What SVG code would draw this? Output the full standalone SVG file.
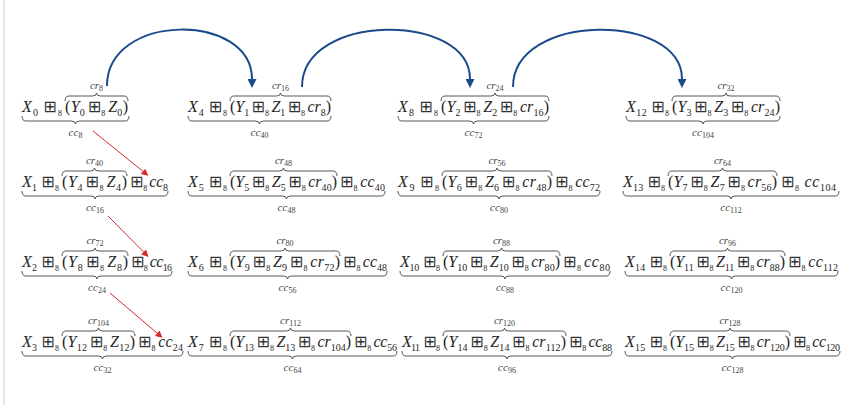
<svg xmlns="http://www.w3.org/2000/svg" width="844" height="405" viewBox="0 0 844 405">
<style>
.m{font-family:"Liberation Serif",serif;font-size:16px;font-style:italic;fill:#262626}
.s{font-size:10px;font-style:normal}
.t{font-size:8px;font-style:normal}
.o{font-family:"DejaVu Sans",sans-serif;font-size:16px;font-style:normal;fill:#333}
.p{font-style:normal}
.l{font-family:"Liberation Serif",serif;font-size:11px;font-style:italic;fill:#444;text-anchor:middle}
.ls{font-size:8px;font-style:normal}
.br{fill:none;stroke:#444;stroke-width:0.9}
.blue{fill:none;stroke:#1b4a8c;stroke-width:2}
.red{fill:none;stroke:#d42a2a;stroke-width:1}
</style>
<defs>
<marker id="ab" viewBox="0 0 10 10" refX="0" refY="5" markerUnits="userSpaceOnUse" markerWidth="10" markerHeight="9" orient="auto"><path d="M0,0 L10,5 L0,10 z" fill="#1b4a8c"/></marker>
<marker id="ar" viewBox="0 0 10 10" refX="0" refY="5" markerUnits="userSpaceOnUse" markerWidth="9" markerHeight="7" orient="auto"><path d="M0,0 L10,5 L0,10 z" fill="#d42a2a"/></marker>
</defs>
<rect width="844" height="405" fill="#fff"/>
<line x1="4" y1="0" x2="4" y2="405" stroke="#d0d0d0" stroke-width="1"/>

<!-- Row 1 -->
<g id="node-0">
<text class="m" x="22" y="112" textLength="40" lengthAdjust="spacing">X<tspan class="s" dy="4">0</tspan><tspan class="o" dx="4" dy="-4">⊞</tspan><tspan class="t" dy="4">8</tspan></text>
<text class="m" x="65" y="112" textLength="63" lengthAdjust="spacing"><tspan class="p">(</tspan>Y<tspan class="s" dy="4">0</tspan><tspan class="o" dx="2.5" dy="-4">⊞</tspan><tspan class="t" dy="4">8</tspan><tspan dx="2.5" dy="-4">Z</tspan><tspan class="s" dy="4">0</tspan><tspan class="p" dy="-4">)</tspan></text>
<path class="br" d="M65,101 Q65,96 69,96 H92.5 Q96.5,96 96.5,93 Q96.5,96 100.5,96 H124 Q128,96 128,101"/>
<path class="br" d="M22,116 Q22,121 26,121 H71.5 Q75.5,121 75.5,124 Q75.5,121 79.5,121 H125 Q129,121 129,116"/>
<text class="l" x="96.5" y="89">cr<tspan class="ls" dy="2">8</tspan></text>
<text class="l" x="75.5" y="136">cc<tspan class="ls" dy="2">8</tspan></text>
</g>
<g id="node-4">
<text class="m" x="188" y="112" textLength="39" lengthAdjust="spacing">X<tspan class="s" dy="4">4</tspan><tspan class="o" dx="4" dy="-4">⊞</tspan><tspan class="t" dy="4">8</tspan></text>
<text class="m" x="230" y="112" textLength="101" lengthAdjust="spacing"><tspan class="p">(</tspan>Y<tspan class="s" dy="4">1</tspan><tspan class="o" dx="2.5" dy="-4">⊞</tspan><tspan class="t" dy="4">8</tspan><tspan dx="2.5" dy="-4">Z</tspan><tspan class="s" dy="4">1</tspan><tspan class="o" dx="2.5" dy="-4">⊞</tspan><tspan class="t" dy="4">8</tspan><tspan dx="2.5" dy="-4">cr</tspan><tspan class="s" dy="4">8</tspan><tspan class="p" dy="-4">)</tspan></text>
<path class="br" d="M230,101 Q230,96 234,96 H276.5 Q280.5,96 280.5,93 Q280.5,96 284.5,96 H327 Q331,96 331,101"/>
<path class="br" d="M188,116 Q188,121 192,121 H255.5 Q259.5,121 259.5,124 Q259.5,121 263.5,121 H327 Q331,121 331,116"/>
<text class="l" x="280.5" y="89">cr<tspan class="ls" dy="2">16</tspan></text>
<text class="l" x="259.5" y="136">cc<tspan class="ls" dy="2">40</tspan></text>
</g>
<g id="node-8">
<text class="m" x="398" y="112" textLength="40" lengthAdjust="spacing">X<tspan class="s" dy="4">8</tspan><tspan class="o" dx="4" dy="-4">⊞</tspan><tspan class="t" dy="4">8</tspan></text>
<text class="m" x="441" y="112" textLength="108" lengthAdjust="spacing"><tspan class="p">(</tspan>Y<tspan class="s" dy="4">2</tspan><tspan class="o" dx="2.5" dy="-4">⊞</tspan><tspan class="t" dy="4">8</tspan><tspan dx="2.5" dy="-4">Z</tspan><tspan class="s" dy="4">2</tspan><tspan class="o" dx="2.5" dy="-4">⊞</tspan><tspan class="t" dy="4">8</tspan><tspan dx="2.5" dy="-4">cr</tspan><tspan class="s" dy="4">16</tspan><tspan class="p" dy="-4">)</tspan></text>
<path class="br" d="M441,101 Q441,96 445,96 H491 Q495,96 495,93 Q495,96 499,96 H545 Q549,96 549,101"/>
<path class="br" d="M398,116 Q398,121 402,121 H469.5 Q473.5,121 473.5,124 Q473.5,121 477.5,121 H545 Q549,121 549,116"/>
<text class="l" x="495" y="89">cr<tspan class="ls" dy="2">24</tspan></text>
<text class="l" x="473.5" y="136">cc<tspan class="ls" dy="2">72</tspan></text>
</g>
<g id="node-12">
<text class="m" x="626" y="112" textLength="43" lengthAdjust="spacing">X<tspan class="s" dy="4">12</tspan><tspan class="o" dx="4" dy="-4">⊞</tspan><tspan class="t" dy="4">8</tspan></text>
<text class="m" x="672" y="112" textLength="108" lengthAdjust="spacing"><tspan class="p">(</tspan>Y<tspan class="s" dy="4">3</tspan><tspan class="o" dx="2.5" dy="-4">⊞</tspan><tspan class="t" dy="4">8</tspan><tspan dx="2.5" dy="-4">Z</tspan><tspan class="s" dy="4">3</tspan><tspan class="o" dx="2.5" dy="-4">⊞</tspan><tspan class="t" dy="4">8</tspan><tspan dx="2.5" dy="-4">cr</tspan><tspan class="s" dy="4">24</tspan><tspan class="p" dy="-4">)</tspan></text>
<path class="br" d="M672,101 Q672,96 676,96 H722 Q726,96 726,93 Q726,96 730,96 H776 Q780,96 780,101"/>
<path class="br" d="M626,116 Q626,121 630,121 H699 Q703,121 703,124 Q703,121 707,121 H776 Q780,121 780,116"/>
<text class="l" x="726" y="89">cr<tspan class="ls" dy="2">32</tspan></text>
<text class="l" x="703" y="136">cc<tspan class="ls" dy="2">104</tspan></text>
</g>

<!-- Row 2 -->
<g id="node-1">
<text class="m" x="22" y="187" textLength="37" lengthAdjust="spacing">X<tspan class="s" dy="4">1</tspan><tspan class="o" dx="4" dy="-4">⊞</tspan><tspan class="t" dy="4">8</tspan></text>
<text class="m" x="62" y="187" textLength="65" lengthAdjust="spacing"><tspan class="p">(</tspan>Y<tspan class="s" dy="4">4</tspan><tspan class="o" dx="2.5" dy="-4">⊞</tspan><tspan class="t" dy="4">8</tspan><tspan dx="2.5" dy="-4">Z</tspan><tspan class="s" dy="4">4</tspan><tspan class="p" dy="-4">)</tspan></text>
<text class="m" x="130" y="187" textLength="38" lengthAdjust="spacing"><tspan class="o">⊞</tspan><tspan class="t" dy="4">8</tspan><tspan dx="2.5" dy="-4">cc</tspan><tspan class="s" dy="4">8</tspan></text>
<path class="br" d="M62,176 Q62,171 66,171 H90.5 Q94.5,171 94.5,168 Q94.5,171 98.5,171 H123 Q127,171 127,176"/>
<path class="br" d="M22,191 Q22,196 26,196 H91 Q95,196 95,199 Q95,196 99,196 H164 Q168,196 168,191"/>
<text class="l" x="94.5" y="164">cr<tspan class="ls" dy="2">40</tspan></text>
<text class="l" x="95" y="211">cc<tspan class="ls" dy="2">16</tspan></text>
</g>
<g id="node-5">
<text class="m" x="188" y="187" textLength="39" lengthAdjust="spacing">X<tspan class="s" dy="4">5</tspan><tspan class="o" dx="4" dy="-4">⊞</tspan><tspan class="t" dy="4">8</tspan></text>
<text class="m" x="230" y="187" textLength="107" lengthAdjust="spacing"><tspan class="p">(</tspan>Y<tspan class="s" dy="4">5</tspan><tspan class="o" dx="2.5" dy="-4">⊞</tspan><tspan class="t" dy="4">8</tspan><tspan dx="2.5" dy="-4">Z</tspan><tspan class="s" dy="4">5</tspan><tspan class="o" dx="2.5" dy="-4">⊞</tspan><tspan class="t" dy="4">8</tspan><tspan dx="2.5" dy="-4">cr</tspan><tspan class="s" dy="4">40</tspan><tspan class="p" dy="-4">)</tspan></text>
<text class="m" x="340" y="187" textLength="45" lengthAdjust="spacing"><tspan class="o">⊞</tspan><tspan class="t" dy="4">8</tspan><tspan dx="2.5" dy="-4">cc</tspan><tspan class="s" dy="4">40</tspan></text>
<path class="br" d="M230,176 Q230,171 234,171 H279.5 Q283.5,171 283.5,168 Q283.5,171 287.5,171 H333 Q337,171 337,176"/>
<path class="br" d="M188,191 Q188,196 192,196 H282.5 Q286.5,196 286.5,199 Q286.5,196 290.5,196 H381 Q385,196 385,191"/>
<text class="l" x="283.5" y="164">cr<tspan class="ls" dy="2">48</tspan></text>
<text class="l" x="286.5" y="211">cc<tspan class="ls" dy="2">48</tspan></text>
</g>
<g id="node-9">
<text class="m" x="398" y="187" textLength="41" lengthAdjust="spacing">X<tspan class="s" dy="4">9</tspan><tspan class="o" dx="4" dy="-4">⊞</tspan><tspan class="t" dy="4">8</tspan></text>
<text class="m" x="442" y="187" textLength="110" lengthAdjust="spacing"><tspan class="p">(</tspan>Y<tspan class="s" dy="4">6</tspan><tspan class="o" dx="2.5" dy="-4">⊞</tspan><tspan class="t" dy="4">8</tspan><tspan dx="2.5" dy="-4">Z</tspan><tspan class="s" dy="4">6</tspan><tspan class="o" dx="2.5" dy="-4">⊞</tspan><tspan class="t" dy="4">8</tspan><tspan dx="2.5" dy="-4">cr</tspan><tspan class="s" dy="4">48</tspan><tspan class="p" dy="-4">)</tspan></text>
<text class="m" x="555" y="187" textLength="45" lengthAdjust="spacing"><tspan class="o">⊞</tspan><tspan class="t" dy="4">8</tspan><tspan dx="2.5" dy="-4">cc</tspan><tspan class="s" dy="4">72</tspan></text>
<path class="br" d="M442,176 Q442,171 446,171 H493 Q497,171 497,168 Q497,171 501,171 H548 Q552,171 552,176"/>
<path class="br" d="M398,191 Q398,196 402,196 H495 Q499,196 499,199 Q499,196 503,196 H596 Q600,196 600,191"/>
<text class="l" x="497" y="164">cr<tspan class="ls" dy="2">56</tspan></text>
<text class="l" x="499" y="211">cc<tspan class="ls" dy="2">80</tspan></text>
</g>
<g id="node-13">
<text class="m" x="623" y="187" textLength="42" lengthAdjust="spacing">X<tspan class="s" dy="4">13</tspan><tspan class="o" dx="4" dy="-4">⊞</tspan><tspan class="t" dy="4">8</tspan></text>
<text class="m" x="668" y="187" textLength="109" lengthAdjust="spacing"><tspan class="p">(</tspan>Y<tspan class="s" dy="4">7</tspan><tspan class="o" dx="2.5" dy="-4">⊞</tspan><tspan class="t" dy="4">8</tspan><tspan dx="2.5" dy="-4">Z</tspan><tspan class="s" dy="4">7</tspan><tspan class="o" dx="2.5" dy="-4">⊞</tspan><tspan class="t" dy="4">8</tspan><tspan dx="2.5" dy="-4">cr</tspan><tspan class="s" dy="4">56</tspan><tspan class="p" dy="-4">)</tspan></text>
<text class="m" x="781" y="187" textLength="55" lengthAdjust="spacing"><tspan class="o">⊞</tspan><tspan class="t" dy="4">8</tspan><tspan dx="5" dy="-4">cc</tspan><tspan class="s" dy="4">104</tspan></text>
<path class="br" d="M668,176 Q668,171 672,171 H718.5 Q722.5,171 722.5,168 Q722.5,171 726.5,171 H773 Q777,171 777,176"/>
<path class="br" d="M623,191 Q623,196 627,196 H727 Q731,196 731,199 Q731,196 735,196 H835 Q839,196 839,191"/>
<text class="l" x="722.5" y="164">cr<tspan class="ls" dy="2">64</tspan></text>
<text class="l" x="731" y="211">cc<tspan class="ls" dy="2">112</tspan></text>
</g>

<!-- Row 3 -->
<g id="node-2">
<text class="m" x="22" y="267" textLength="37" lengthAdjust="spacing">X<tspan class="s" dy="4">2</tspan><tspan class="o" dx="4" dy="-4">⊞</tspan><tspan class="t" dy="4">8</tspan></text>
<text class="m" x="62" y="267" textLength="66" lengthAdjust="spacing"><tspan class="p">(</tspan>Y<tspan class="s" dy="4">8</tspan><tspan class="o" dx="2.5" dy="-4">⊞</tspan><tspan class="t" dy="4">8</tspan><tspan dx="2.5" dy="-4">Z</tspan><tspan class="s" dy="4">8</tspan><tspan class="p" dy="-4">)</tspan></text>
<text class="m" x="131" y="267" textLength="41" lengthAdjust="spacing"><tspan class="o">⊞</tspan><tspan class="t" dy="4">8</tspan><tspan dx="2.5" dy="-4">cc</tspan><tspan class="s" dy="4">16</tspan></text>
<path class="br" d="M62,256 Q62,251 66,251 H91 Q95,251 95,248 Q95,251 99,251 H124 Q128,251 128,256"/>
<path class="br" d="M22,271 Q22,276 26,276 H93 Q97,276 97,279 Q97,276 101,276 H168 Q172,276 172,271"/>
<text class="l" x="95" y="244">cr<tspan class="ls" dy="2">72</tspan></text>
<text class="l" x="97" y="291">cc<tspan class="ls" dy="2">24</tspan></text>
</g>
<g id="node-6">
<text class="m" x="188" y="267" textLength="39" lengthAdjust="spacing">X<tspan class="s" dy="4">6</tspan><tspan class="o" dx="4" dy="-4">⊞</tspan><tspan class="t" dy="4">8</tspan></text>
<text class="m" x="230" y="267" textLength="110" lengthAdjust="spacing"><tspan class="p">(</tspan>Y<tspan class="s" dy="4">9</tspan><tspan class="o" dx="2.5" dy="-4">⊞</tspan><tspan class="t" dy="4">8</tspan><tspan dx="2.5" dy="-4">Z</tspan><tspan class="s" dy="4">9</tspan><tspan class="o" dx="2.5" dy="-4">⊞</tspan><tspan class="t" dy="4">8</tspan><tspan dx="2.5" dy="-4">cr</tspan><tspan class="s" dy="4">72</tspan><tspan class="p" dy="-4">)</tspan></text>
<text class="m" x="343" y="267" textLength="44" lengthAdjust="spacing"><tspan class="o">⊞</tspan><tspan class="t" dy="4">8</tspan><tspan dx="2.5" dy="-4">cc</tspan><tspan class="s" dy="4">48</tspan></text>
<path class="br" d="M230,256 Q230,251 234,251 H281 Q285,251 285,248 Q285,251 289,251 H336 Q340,251 340,256"/>
<path class="br" d="M188,271 Q188,276 192,276 H283.5 Q287.5,276 287.5,279 Q287.5,276 291.5,276 H383 Q387,276 387,271"/>
<text class="l" x="285" y="244">cr<tspan class="ls" dy="2">80</tspan></text>
<text class="l" x="287.5" y="291">cc<tspan class="ls" dy="2">56</tspan></text>
</g>
<g id="node-10">
<text class="m" x="400" y="267" textLength="40" lengthAdjust="spacing">X<tspan class="s" dy="4">10</tspan><tspan class="o" dx="4" dy="-4">⊞</tspan><tspan class="t" dy="4">8</tspan></text>
<text class="m" x="443" y="267" textLength="117" lengthAdjust="spacing"><tspan class="p">(</tspan>Y<tspan class="s" dy="4">10</tspan><tspan class="o" dx="2.5" dy="-4">⊞</tspan><tspan class="t" dy="4">8</tspan><tspan dx="2.5" dy="-4">Z</tspan><tspan class="s" dy="4">10</tspan><tspan class="o" dx="2.5" dy="-4">⊞</tspan><tspan class="t" dy="4">8</tspan><tspan dx="2.5" dy="-4">cr</tspan><tspan class="s" dy="4">80</tspan><tspan class="p" dy="-4">)</tspan></text>
<text class="m" x="563" y="267" textLength="47" lengthAdjust="spacing"><tspan class="o">⊞</tspan><tspan class="t" dy="4">8</tspan><tspan dx="2.5" dy="-4">cc</tspan><tspan class="s" dy="4">80</tspan></text>
<path class="br" d="M443,256 Q443,251 447,251 H497.5 Q501.5,251 501.5,248 Q501.5,251 505.5,251 H556 Q560,251 560,256"/>
<path class="br" d="M400,271 Q400,276 404,276 H501 Q505,276 505,279 Q505,276 509,276 H606 Q610,276 610,271"/>
<text class="l" x="501.5" y="244">cr<tspan class="ls" dy="2">88</tspan></text>
<text class="l" x="505" y="291">cc<tspan class="ls" dy="2">88</tspan></text>
</g>
<g id="node-14">
<text class="m" x="625" y="267" textLength="42" lengthAdjust="spacing">X<tspan class="s" dy="4">14</tspan><tspan class="o" dx="4" dy="-4">⊞</tspan><tspan class="t" dy="4">8</tspan></text>
<text class="m" x="670" y="267" textLength="115" lengthAdjust="spacing"><tspan class="p">(</tspan>Y<tspan class="s" dy="4">11</tspan><tspan class="o" dx="2.5" dy="-4">⊞</tspan><tspan class="t" dy="4">8</tspan><tspan dx="2.5" dy="-4">Z</tspan><tspan class="s" dy="4">11</tspan><tspan class="o" dx="2.5" dy="-4">⊞</tspan><tspan class="t" dy="4">8</tspan><tspan dx="2.5" dy="-4">cr</tspan><tspan class="s" dy="4">88</tspan><tspan class="p" dy="-4">)</tspan></text>
<text class="m" x="788" y="267" textLength="50" lengthAdjust="spacing"><tspan class="o">⊞</tspan><tspan class="t" dy="4">8</tspan><tspan dx="2.5" dy="-4">cc</tspan><tspan class="s" dy="4">112</tspan></text>
<path class="br" d="M670,256 Q670,251 674,251 H723.5 Q727.5,251 727.5,248 Q727.5,251 731.5,251 H781 Q785,251 785,256"/>
<path class="br" d="M625,271 Q625,276 629,276 H727.5 Q731.5,276 731.5,279 Q731.5,276 735.5,276 H834 Q838,276 838,271"/>
<text class="l" x="727.5" y="244">cr<tspan class="ls" dy="2">96</tspan></text>
<text class="l" x="731.5" y="291">cc<tspan class="ls" dy="2">120</tspan></text>
</g>

<!-- Row 4 -->
<g id="node-3">
<text class="m" x="22" y="347" textLength="37" lengthAdjust="spacing">X<tspan class="s" dy="4">3</tspan><tspan class="o" dx="4" dy="-4">⊞</tspan><tspan class="t" dy="4">8</tspan></text>
<text class="m" x="62" y="347" textLength="73" lengthAdjust="spacing"><tspan class="p">(</tspan>Y<tspan class="s" dy="4">12</tspan><tspan class="o" dx="2.5" dy="-4">⊞</tspan><tspan class="t" dy="4">8</tspan><tspan dx="2.5" dy="-4">Z</tspan><tspan class="s" dy="4">12</tspan><tspan class="p" dy="-4">)</tspan></text>
<text class="m" x="138" y="347" textLength="45" lengthAdjust="spacing"><tspan class="o">⊞</tspan><tspan class="t" dy="4">8</tspan><tspan dx="2.5" dy="-4">cc</tspan><tspan class="s" dy="4">24</tspan></text>
<path class="br" d="M62,336 Q62,331 66,331 H94.5 Q98.5,331 98.5,328 Q98.5,331 102.5,331 H131 Q135,331 135,336"/>
<path class="br" d="M22,351 Q22,356 26,356 H98.5 Q102.5,356 102.5,359 Q102.5,356 106.5,356 H179 Q183,356 183,351"/>
<text class="l" x="98.5" y="324">cr<tspan class="ls" dy="2">104</tspan></text>
<text class="l" x="102.5" y="371">cc<tspan class="ls" dy="2">32</tspan></text>
</g>
<g id="node-7">
<text class="m" x="188" y="347" textLength="39" lengthAdjust="spacing">X<tspan class="s" dy="4">7</tspan><tspan class="o" dx="4" dy="-4">⊞</tspan><tspan class="t" dy="4">8</tspan></text>
<text class="m" x="230" y="347" textLength="121" lengthAdjust="spacing"><tspan class="p">(</tspan>Y<tspan class="s" dy="4">13</tspan><tspan class="o" dx="2.5" dy="-4">⊞</tspan><tspan class="t" dy="4">8</tspan><tspan dx="2.5" dy="-4">Z</tspan><tspan class="s" dy="4">13</tspan><tspan class="o" dx="2.5" dy="-4">⊞</tspan><tspan class="t" dy="4">8</tspan><tspan dx="2.5" dy="-4">cr</tspan><tspan class="s" dy="4">104</tspan><tspan class="p" dy="-4">)</tspan></text>
<text class="m" x="354" y="347" textLength="43" lengthAdjust="spacing"><tspan class="o">⊞</tspan><tspan class="t" dy="4">8</tspan><tspan dx="2.5" dy="-4">cc</tspan><tspan class="s" dy="4">56</tspan></text>
<path class="br" d="M230,336 Q230,331 234,331 H286.5 Q290.5,331 290.5,328 Q290.5,331 294.5,331 H347 Q351,331 351,336"/>
<path class="br" d="M188,351 Q188,356 192,356 H288.5 Q292.5,356 292.5,359 Q292.5,356 296.5,356 H393 Q397,356 397,351"/>
<text class="l" x="290.5" y="324">cr<tspan class="ls" dy="2">112</tspan></text>
<text class="l" x="292.5" y="371">cc<tspan class="ls" dy="2">64</tspan></text>
</g>
<g id="node-11">
<text class="m" x="402" y="347" textLength="38" lengthAdjust="spacing">X<tspan class="s" dy="4">11</tspan><tspan class="o" dx="4" dy="-4">⊞</tspan><tspan class="t" dy="4">8</tspan></text>
<text class="m" x="443" y="347" textLength="123" lengthAdjust="spacing"><tspan class="p">(</tspan>Y<tspan class="s" dy="4">14</tspan><tspan class="o" dx="2.5" dy="-4">⊞</tspan><tspan class="t" dy="4">8</tspan><tspan dx="2.5" dy="-4">Z</tspan><tspan class="s" dy="4">14</tspan><tspan class="o" dx="2.5" dy="-4">⊞</tspan><tspan class="t" dy="4">8</tspan><tspan dx="2.5" dy="-4">cr</tspan><tspan class="s" dy="4">112</tspan><tspan class="p" dy="-4">)</tspan></text>
<text class="m" x="569" y="347" textLength="43" lengthAdjust="spacing"><tspan class="o">⊞</tspan><tspan class="t" dy="4">8</tspan><tspan dx="2.5" dy="-4">cc</tspan><tspan class="s" dy="4">88</tspan></text>
<path class="br" d="M443,336 Q443,331 447,331 H500.5 Q504.5,331 504.5,328 Q504.5,331 508.5,331 H562 Q566,331 566,336"/>
<path class="br" d="M402,351 Q402,356 406,356 H503 Q507,356 507,359 Q507,356 511,356 H608 Q612,356 612,351"/>
<text class="l" x="504.5" y="324">cr<tspan class="ls" dy="2">120</tspan></text>
<text class="l" x="507" y="371">cc<tspan class="ls" dy="2">96</tspan></text>
</g>
<g id="node-15">
<text class="m" x="625" y="347" textLength="42" lengthAdjust="spacing">X<tspan class="s" dy="4">15</tspan><tspan class="o" dx="4" dy="-4">⊞</tspan><tspan class="t" dy="4">8</tspan></text>
<text class="m" x="670" y="347" textLength="120" lengthAdjust="spacing"><tspan class="p">(</tspan>Y<tspan class="s" dy="4">15</tspan><tspan class="o" dx="2.5" dy="-4">⊞</tspan><tspan class="t" dy="4">8</tspan><tspan dx="2.5" dy="-4">Z</tspan><tspan class="s" dy="4">15</tspan><tspan class="o" dx="2.5" dy="-4">⊞</tspan><tspan class="t" dy="4">8</tspan><tspan dx="2.5" dy="-4">cr</tspan><tspan class="s" dy="4">120</tspan><tspan class="p" dy="-4">)</tspan></text>
<text class="m" x="793" y="347" textLength="47" lengthAdjust="spacing"><tspan class="o">⊞</tspan><tspan class="t" dy="4">8</tspan><tspan dx="2.5" dy="-4">cc</tspan><tspan class="s" dy="4">120</tspan></text>
<path class="br" d="M670,336 Q670,331 674,331 H726 Q730,331 730,328 Q730,331 734,331 H786 Q790,331 790,336"/>
<path class="br" d="M625,351 Q625,356 629,356 H728.5 Q732.5,356 732.5,359 Q732.5,356 736.5,356 H836 Q840,356 840,351"/>
<text class="l" x="730" y="324">cr<tspan class="ls" dy="2">128</tspan></text>
<text class="l" x="732.5" y="371">cc<tspan class="ls" dy="2">128</tspan></text>
</g>

<g id="connectors">
<path class="blue" d="M107,86 C107,12 252,12 252,79" marker-end="url(#ab)"/>
<path class="blue" d="M302,87 C302,12 470,12 470,79" marker-end="url(#ab)"/>
<path class="blue" d="M513,87 C513,12 682,12 682,79" marker-end="url(#ab)"/>
<path class="red" d="M93,131 L143,171.4" marker-end="url(#ar)"/>
<path class="red" d="M108,216 L143.6,252" marker-end="url(#ar)"/>
<path class="red" d="M110,293 L157.2,333.2" marker-end="url(#ar)"/>
</g>
</svg>
